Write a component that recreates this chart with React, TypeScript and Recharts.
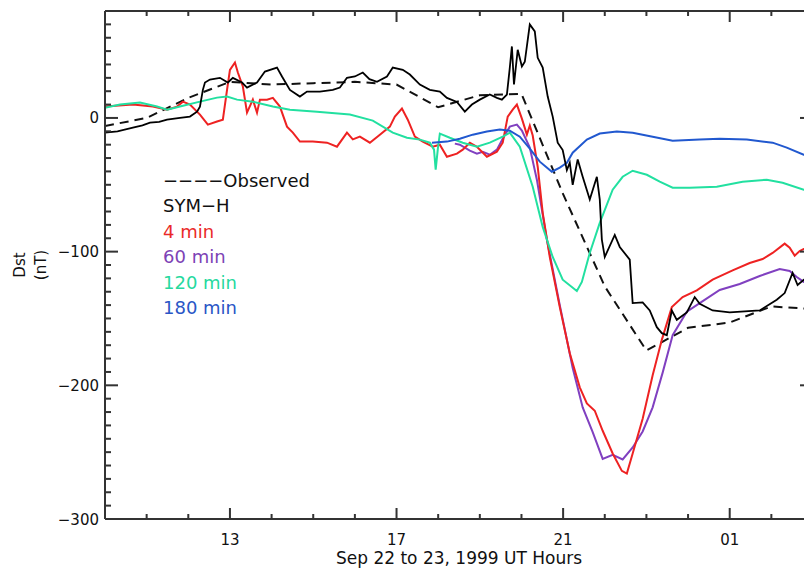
import { Line, LineChart, ReferenceLine, XAxis, YAxis } from "recharts";

// Dst storm of Sep 22-23 1999, hour of day (24+ = Sep 23) vs nT
const HOURS_TICKS = [10, 11, 12, 13, 14, 15, 16, 17, 18, 19, 20, 21, 22, 23, 24, 25, 26, 27];
const HOUR_LABELS: Record<number, string> = { 13: "13", 17: "17", 21: "21", 25: "01" };
const DST_TICKS = [
  -300, -290, -280, -270, -260, -250, -240, -230, -220, -210, -200, -190, -180, -170, -160,
  -150, -140, -130, -120, -110, -100, -90, -80, -70, -60, -50, -40, -30, -20, -10, 0, 10, 20,
  30, 40, 50, 60, 70, 80,
];
const DST_LABELS: Record<number, string> = { 0: "0", [-100]: "\u2212100", [-200]: "\u2212200", [-300]: "\u2212300" };

// hourly observed Dst
const observed: [number, number][] = [
  [10, -6], [11, 0], [12, 15], [13, 27], [14, 25], [15, 26], [16, 27], [17, 25], [18, 8],
  [19, 17], [20, 18], [21, -57], [22, -126], [23, -174], [24, -157], [25, -153], [26, -141], [27, -143],
];

const symH: [number, number][] = [
  [10.0, -11], [10.3, -10], [10.67, -7.3], [10.9, -5.5], [11.08, -3.5], [11.3, -3], [11.49, -1.3],
  [11.8, 0], [12.04, 1], [12.21, 4.7], [12.28, 8.5],
  [12.35, 21], [12.4, 26.5], [12.52, 28.7], [12.76, 30], [12.95, 26.5], [13.07, 30], [13.29, 26.5],
  [13.41, 22.7], [13.65, 26.5], [13.84, 34.7], [14.13, 37.7], [14.25, 31], [14.44, 21], [14.68, 16],
  [14.85, 19.7], [15.16, 19.7], [15.47, 21], [15.64, 22.7], [15.81, 30], [16.0, 31], [16.19, 34], [16.35, 29],
  [16.53, 27], [16.77, 31], [16.91, 37.7], [17.15, 36], [17.32, 32.5], [17.56, 25], [17.8, 21], [18.04, 19.7],
  [18.21, 15], [18.45, 12], [18.64, 4.7], [18.81, 10], [19.0, 13.7], [19.24, 17.5], [19.41, 15],
  [19.53, 13.7], [19.65, 17.5], [19.72, 37.7], [19.77, 53.5], [19.82, 25], [19.91, 51], [20.01, 38.5],
  [20.08, 42], [20.2, 70], [20.32, 64.7], [20.39, 45], [20.51, 37.7], [20.63, 16], [20.75, 1],
  [20.87, -18.5], [20.99, -24], [21.09, -39], [21.16, -33.5], [21.23, -50], [21.35, -31], [21.47, -44],
  [21.64, -61], [21.81, -44], [21.88, -61], [21.93, -91], [22.0, -104], [22.24, -87.5], [22.36, -96.5],
  [22.6, -106], [22.67, -138.5], [22.91, -138], [23.08, -144], [23.25, -156.5], [23.37, -161],
  [23.49, -162.5], [23.61, -144], [23.73, -151], [23.97, -145.5], [24.16, -134], [24.28, -139],
  [24.59, -144], [25.0, -145.5], [25.72, -144], [26.13, -136], [26.32, -131], [26.51, -116],
  [26.63, -125], [26.78, -121], [27, -123],
];

const min4: [number, number][] = [
  [10.0, 8.5], [10.67, 10], [11.15, 8.5], [11.49, 6.2], [11.73, 8.5], [11.87, 12.2], [12.04, 10],
  [12.28, 2.5], [12.47, -5], [12.69, -2.7], [12.83, -1.3], [12.93, 21], [13.0, 36], [13.12, 41.5],
  [13.19, 34], [13.31, 23.5], [13.41, 4], [13.55, 13.7], [13.65, 4], [13.72, 13.7], [13.89, 13.7],
  [14.03, 15], [14.2, 8.5], [14.37, -6.5], [14.51, -11], [14.68, -17.7], [14.99, -17.7], [15.33, -18.5],
  [15.57, -21.5], [15.81, -11], [15.95, -16], [16.12, -14], [16.36, -18.5], [16.6, -12.5], [16.84, -6.5],
  [16.96, 1], [17.13, 7], [17.27, -1.3], [17.44, -14], [17.63, -17.7], [17.87, -21.5], [18.04, -20],
  [18.21, -29], [18.45, -26.7], [18.59, -23.7], [18.76, -18.5], [18.93, -21.5], [19.17, -29],
  [19.41, -25.2], [19.55, -18.5], [19.67, 1], [19.79, 6.2], [19.89, 10], [20.01, -0.5], [20.13, -12.5],
  [20.2, -5.7], [20.27, -13.2], [20.39, -36.5], [20.51, -71], [20.68, -104], [20.92, -141.5],
  [21.16, -176], [21.4, -201.5], [21.57, -213.5], [21.76, -219], [21.95, -234], [22.19, -251],
  [22.41, -264], [22.53, -266], [22.67, -251], [22.91, -225], [23.15, -192.5], [23.37, -166],
  [23.61, -141.5], [23.87, -134], [24.21, -129], [24.59, -121], [25.07, -114], [25.48, -108.5],
  [25.79, -105.5], [26.03, -101], [26.32, -94], [26.44, -97], [26.56, -103], [26.68, -99.5],
  [26.78, -98], [27, -97],
];

const min60: [number, number][] = [
  [18.4, -19.2], [18.52, -20], [18.76, -24.5], [18.93, -26.7], [19.07, -25.3], [19.24, -27.5],
  [19.41, -23.7], [19.55, -15.5], [19.72, -6.5], [19.89, -5], [20.01, -9.5], [20.2, -22.2],
  [20.37, -46.2], [20.61, -91], [20.92, -140], [21.23, -187], [21.47, -216.5], [21.71, -235],
  [21.95, -255], [22.19, -252], [22.43, -255.5], [22.67, -246.5], [22.91, -234.5], [23.15, -216.5],
  [23.39, -190.5], [23.63, -162.5], [23.97, -145], [24.28, -138.5], [24.76, -128.7], [25.24, -124.2],
  [25.72, -118.2], [26.2, -113], [26.44, -114.5], [26.61, -119], [26.78, -122.7], [27, -125],
];

const min120: [number, number][] = [
  [10.0, 7.7], [10.36, 10], [10.84, 11.5], [11.25, 8.5], [11.49, 6.2], [11.8, 8.5], [12.28, 12.2],
  [12.69, 15.2], [12.93, 16], [13.17, 13.7], [13.55, 12.2], [14.03, 8.5], [14.44, 6.2], [15.09, 4.7],
  [15.88, 2.5], [16.43, -2], [16.91, -11], [17.25, -14.8], [17.56, -16.2], [17.8, -18.5],
  [17.9, -23.7], [17.94, -38.7], [17.99, -23.7], [18.04, -11.7], [18.28, -14.8], [18.59, -18.5],
  [18.93, -21.5], [19.24, -18.5], [19.55, -14], [19.72, -11], [19.96, -21.5], [20.27, -51.5],
  [20.51, -81.5], [20.75, -104], [20.99, -121], [21.33, -129.5], [21.45, -122.7], [21.64, -101],
  [21.88, -78.5], [22.19, -53.7], [22.43, -44], [22.67, -39.5], [23.01, -42.5], [23.32, -47.7],
  [23.63, -52.2], [24.04, -52.2], [24.69, -51.5], [25.31, -47.7], [25.89, -46.2], [26.27, -48.5],
  [26.78, -53.7], [27, -55],
];

const min180: [number, number][] = [
  [17.85, -18.5], [18.21, -17.7], [18.52, -15.5], [18.83, -12.5], [19.17, -10.2], [19.48, -8.7],
  [19.72, -9.5], [19.96, -14], [20.2, -23], [20.44, -32.7], [20.73, -40.2], [20.92, -37.2],
  [21.09, -33.5], [21.23, -26], [21.57, -16.2], [21.88, -11.7], [22.29, -10.2], [22.67, -11],
  [23.15, -14], [23.63, -17], [24.28, -16.2], [24.76, -15.5], [25.41, -16.2], [26.03, -18.5],
  [26.37, -22.2], [26.78, -27.5], [27, -30],
];

const toPoints = (pairs: [number, number][]) => pairs.map(([h, v]) => ({ h, v }));

const FONT = "'DejaVu Sans', sans-serif";
const AXIS = "#333";

// plot box (same numbers as the chart margins/axis sizes below)
const CHART_W = 814;
const CHART_H = 568;
const PLOT_TOP = 11;
const PLOT_LEFT = 105;
const PLOT_RIGHT = CHART_W - 1;
const PLOT_BOTTOM = CHART_H - 49;
const X_DOMAIN: [number, number] = [10, 27];
const Y_DOMAIN: [number, number] = [-300, 80];
const xPx = (h: number) => PLOT_LEFT + ((h - X_DOMAIN[0]) / (X_DOMAIN[1] - X_DOMAIN[0])) * (PLOT_RIGHT - PLOT_LEFT);
const yPx = (v: number) => PLOT_TOP + ((Y_DOMAIN[1] - v) / (Y_DOMAIN[1] - Y_DOMAIN[0])) * (PLOT_BOTTOM - PLOT_TOP);

const renderHourTick = (props: any) => {
  const label = HOUR_LABELS[props.payload.value];
  if (label === undefined) return <g />;
  return (
    <text x={props.x} y={545} textAnchor="middle" fontSize={15} fontFamily={FONT} fill="#111">
      {label}
    </text>
  );
};

const renderDstTick = (props: any) => {
  const label = DST_LABELS[props.payload.value];
  if (label === undefined) return <g />;
  return (
    <text x={99} y={props.y + 5.5} textAnchor="end" fontSize={15} fontFamily={FONT} fill="#111">
      {label}
    </text>
  );
};

const legend = [
  { text: "\u2212\u2212\u2212\u2212Observed", color: "#111" },
  { text: "SYM\u2212H", color: "#111" },
  { text: "4 min", color: "#ea2a2a" },
  { text: "60 min", color: "#7d42b5" },
  { text: "120 min", color: "#26d99e" },
  { text: "180 min", color: "#2a56c6" },
];

// inward IDL-style tick marks on all four sides of the box
function BoxTicks() {
  const w = 2;
  return (
    <g fill={AXIS}>
      {HOURS_TICKS.slice(1, -1).map((h) => {
        const len = HOUR_LABELS[h] !== undefined ? 11 : 5;
        const x = xPx(h) - w / 2;
        return (
          <g key={`h${h}`}>
            <rect x={x} y={PLOT_BOTTOM - len} width={w} height={len} />
            <rect x={x} y={PLOT_TOP} width={w} height={len} />
          </g>
        );
      })}
      {DST_TICKS.slice(1, -1).map((v) => {
        const len = DST_LABELS[v] !== undefined ? 13 : 6;
        const y = yPx(v) - w / 2;
        return (
          <g key={`v${v}`}>
            <rect x={PLOT_LEFT} y={y} width={len} height={w} />
            <rect x={PLOT_RIGHT - len} y={y} width={len} height={w} />
          </g>
        );
      })}
    </g>
  );
}

export default function App() {
  const lineProps = { type: "linear" as const, dataKey: "v", dot: false, isAnimationActive: false, strokeWidth: 2 };
  return (
    <div style={{ position: "absolute", left: 0, top: 0, width: 804, height: 568, overflow: "hidden", background: "#fff" }}>
      <LineChart width={CHART_W} height={CHART_H} margin={{ top: PLOT_TOP, right: 1, bottom: 0, left: 0 }}>
        <XAxis
          dataKey="h"
          type="number"
          domain={X_DOMAIN}
          ticks={HOURS_TICKS}
          interval={0}
          allowDataOverflow
          height={49}
          tickLine={false}
          axisLine={{ stroke: AXIS, strokeWidth: 2 }}
          tick={renderHourTick}
        />
        <YAxis
          type="number"
          domain={Y_DOMAIN}
          ticks={DST_TICKS}
          interval={0}
          allowDataOverflow
          width={105}
          tickLine={false}
          axisLine={{ stroke: AXIS, strokeWidth: 2 }}
          tick={renderDstTick}
        />
        <ReferenceLine y={80} stroke={AXIS} strokeWidth={2} />
        <ReferenceLine x={27} stroke={AXIS} strokeWidth={2} />
        <Line {...lineProps} data={toPoints(observed)} stroke="#111" strokeDasharray="9 6" />
        <Line {...lineProps} data={toPoints(min60)} stroke="#8040c0" />
        <Line {...lineProps} data={toPoints(min4)} stroke="#ee2222" />
        <Line {...lineProps} data={toPoints(min120)} stroke="#22e0a0" />
        <Line {...lineProps} data={toPoints(min180)} stroke="#2158cf" />
        <Line {...lineProps} data={toPoints(symH)} stroke="#000" strokeWidth={1.8} />
      </LineChart>
      <svg width={804} height={568} style={{ position: "absolute", left: 0, top: 0, pointerEvents: "none" }}>
        <BoxTicks />
        {legend.map((item, i) => (
          <text key={item.text} x={163} y={187 + i * 25.4} fontSize={18} fontFamily={FONT} fill={item.color}>
            {item.text}
          </text>
        ))}
        <text transform="translate(25,265) rotate(-90)" textAnchor="middle" fontSize={15} fontFamily={FONT} fill="#111">
          Dst
        </text>
        <text transform="translate(46,265) rotate(-90)" textAnchor="middle" fontSize={15} fontFamily={FONT} fill="#111">
          (nT)
        </text>
        <text x={459} y={564} textAnchor="middle" fontSize={17} fontFamily={FONT} fill="#111">
          Sep 22 to 23, 1999 UT Hours
        </text>
      </svg>
    </div>
  );
}
